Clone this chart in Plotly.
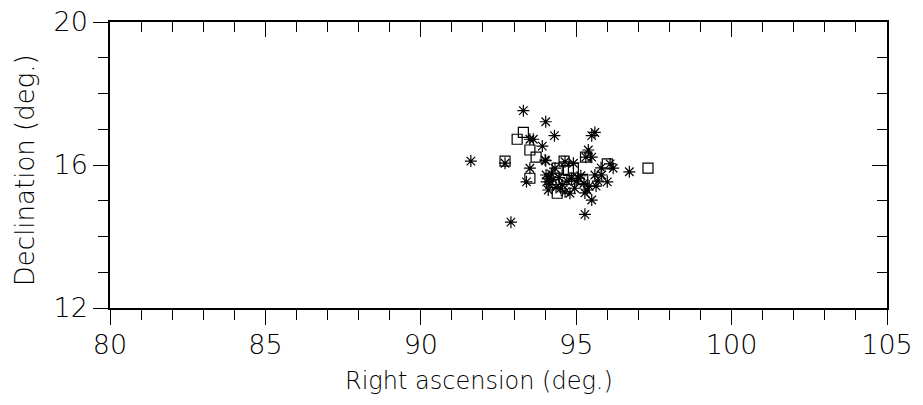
import plotly.graph_objects as go

# Asterisk-marked sources (RA, Dec in degrees)
star_ra = [93.30, 94.02, 94.30, 95.60, 95.50, 93.51, 93.62, 93.91, 91.61, 92.71,
           94.02, 95.39, 95.31, 95.50, 94.64, 94.91, 93.51, 94.32, 95.80, 96.09,
           96.19, 96.71, 95.60, 95.82, 94.03, 94.11, 94.05, 93.40, 94.85, 95.07,
           95.25, 95.42, 96.00, 95.64, 94.10, 94.35, 94.64, 94.80, 95.28, 95.50,
           95.28, 92.90, 94.00, 94.20, 94.55, 94.45, 94.70, 95.00, 94.15, 94.50,
           94.25, 95.15, 95.35, 95.70, 94.95]
star_dec = [17.52, 17.21, 16.82, 16.91, 16.82, 16.72, 16.72, 16.53, 16.11, 16.05,
            16.12, 16.42, 16.22, 16.22, 16.09, 16.05, 15.91, 15.91, 15.92, 16.03,
            15.91, 15.81, 15.72, 15.72, 15.72, 15.63, 15.53, 15.53, 15.63, 15.63,
            15.49, 15.41, 15.53, 15.41, 15.30, 15.37, 15.25, 15.21, 15.22, 15.02,
            14.62, 14.40, 16.14, 15.75, 15.45, 15.65, 15.55, 15.55, 15.45, 15.35,
            15.60, 15.70, 15.30, 15.55, 15.35]

# Square-marked sources
sq_ra = [93.30, 93.10, 93.51, 93.71, 92.71, 95.30, 94.61, 94.91, 94.39, 96.00,
         97.31, 93.51, 94.61, 95.21, 94.39, 94.75]
sq_dec = [16.91, 16.72, 16.42, 16.22, 16.11, 16.22, 16.11, 15.91, 15.91, 16.03,
          15.91, 15.63, 15.60, 15.60, 15.21, 15.85]

x_ticks = [80, 85, 90, 95, 100, 105]
y_ticks = [12, 16, 20]
x_title = "Right ascension (deg.)"
y_title = "Declination (deg.)"

TICK_FONT = dict(family="DejaVu Sans", size=27, color="black", weight=200)
XTITLE_FONT = dict(family="DejaVu Sans", size=24, color="black", weight=200)
YTITLE_FONT = dict(family="DejaVu Sans", size=26, color="black", weight=200)

fig = go.Figure()
fig.add_trace(go.Scatter(x=star_ra, y=star_dec, mode="markers",
                         marker=dict(symbol="asterisk-open", size=10, color="black",
                                     line=dict(color="black", width=1.2)),
                         showlegend=False))
fig.add_trace(go.Scatter(x=sq_ra, y=sq_dec, mode="markers",
                         marker=dict(symbol="square-open", size=10, color="black",
                                     line=dict(color="black", width=1.2)),
                         showlegend=False))
# empty trace to register the mirrored (top/right) axes
fig.add_trace(go.Scatter(x=[], y=[], xaxis="x2", yaxis="y2", showlegend=False))

axis_common = dict(showline=True, linecolor="black", linewidth=1.5,
                   showgrid=False, zeroline=False, tickcolor="black",
                   tickwidth=1.2, ticklen=15, automargin=False)

fig.update_layout(
    width=923, height=405,
    margin=dict(l=110, r=36, t=22, b=97),
    plot_bgcolor="white", paper_bgcolor="white",
    font=TICK_FONT,
    xaxis=dict(range=[80, 105], tickvals=x_ticks, ticks="outside",
               minor=dict(dtick=1, tick0=80, ticks="outside", ticklen=10,
                          tickcolor="black", tickwidth=1.2),
               tickfont=TICK_FONT, ticklabelstandoff=-3, **axis_common),
    yaxis=dict(range=[12, 20], tickvals=y_ticks, ticks="outside",
               minor=dict(dtick=1, tick0=12, ticks="outside", ticklen=10,
                          tickcolor="black", tickwidth=1.2),
               tickfont=TICK_FONT, **axis_common),
    xaxis2=dict(range=[80, 105], overlaying="x", side="top", anchor="y",
                tickvals=x_ticks, ticks="inside", showticklabels=False,
                minor=dict(dtick=1, tick0=80, ticks="inside", ticklen=10,
                           tickcolor="black", tickwidth=1.2),
                **axis_common),
    yaxis2=dict(range=[12, 20], overlaying="y", side="right", anchor="x",
                tickvals=y_ticks, ticks="inside", showticklabels=False,
                minor=dict(dtick=1, tick0=12, ticks="inside", ticklen=10,
                           tickcolor="black", tickwidth=1.2),
                **axis_common),
    annotations=[
        dict(text=x_title, xref="paper", yref="paper", x=0.475, y=-0.255,
             xanchor="center", yanchor="middle", showarrow=False, font=XTITLE_FONT),
        dict(text=y_title, xref="paper", yref="paper", x=-0.109, y=0.483,
             xanchor="center", yanchor="middle", showarrow=False, textangle=-90,
             font=YTITLE_FONT),
    ],
)

fig.write_html("out.html", post_script="document.body.style.margin='0';",
               config={"displayModeBar": False})
